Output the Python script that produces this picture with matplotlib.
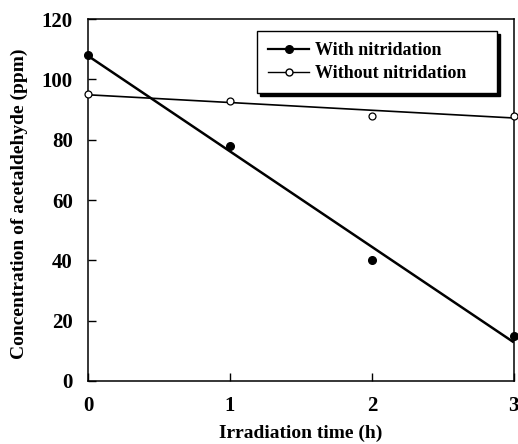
import matplotlib
matplotlib.use("Agg")
import matplotlib.pyplot as plt
from matplotlib.lines import Line2D

# measured points
time_h = [0, 1, 2, 3]
with_nitr = [108, 78, 40, 15]
without_nitr = [95, 93, 88, 88]

# fitted lines (end points)
fit_x = [0, 3]
with_fit = [107.8, 12.8]
without_fit = [94.9, 87.2]

x_ticks = [0, 1, 2, 3]
y_ticks = [0, 20, 40, 60, 80, 100, 120]


def main():
    plt.rcParams["font.family"] = ["Liberation Serif", "DejaVu Serif"]
    plt.rcParams["font.weight"] = "bold"

    fig = plt.figure(figsize=(5.18, 4.44), dpi=100)
    ax = fig.add_axes([0.17, 0.142, 0.822, 0.815])

    ax.plot(fit_x, with_fit, color="black", lw=1.8, solid_capstyle="butt")
    ax.plot(fit_x, without_fit, color="black", lw=1.2, solid_capstyle="butt")
    ax.plot(time_h, with_nitr, "o", color="black", ms=5.5, clip_on=False, zorder=3)
    ax.plot(time_h, without_nitr, "o", mfc="white", mec="black", mew=0.9,
            ms=5, clip_on=False, zorder=3)

    ax.set_xlim(0, 3)
    ax.set_ylim(0, 120)
    ax.set_xticks(x_ticks)
    ax.set_yticks(y_ticks)
    ax.tick_params(direction="in", length=6, width=1, labelsize=15, pad=11)
    for s in ax.spines.values():
        s.set_linewidth(1.1)

    ax.set_xlabel("Irradiation time (h)", fontsize=14, fontweight="bold", labelpad=6)
    ax.set_ylabel("Concentration of acetaldehyde (ppm)", fontsize=14,
                  fontweight="bold")
    ax.yaxis.set_label_coords(-0.14, 0.49)

    handles = [
        Line2D([], [], color="black", lw=1.6, marker="o", ms=5.5),
        Line2D([], [], color="black", lw=1.0, marker="o", mfc="white", ms=5),
    ]
    # legend box spans a fixed width; text stays left, spare room on the right
    leg = ax.legend(handles, ["With nitridation", "Without nitridation"],
                    loc="upper left", bbox_to_anchor=(0.397, 0.5, 0.563, 0.467),
                    mode="expand", borderaxespad=0, fancybox=False,
                    edgecolor="black", framealpha=1,
                    shadow={"color": "black", "alpha": 1},
                    prop={"size": 13, "weight": "bold"},
                    handlelength=2.3, handletextpad=0.3, labelspacing=0.35,
                    borderpad=0.6)
    leg.get_frame().set_linewidth(1.0)

    fig.savefig("out.png", dpi=100)


if __name__ == "__main__":
    main()
